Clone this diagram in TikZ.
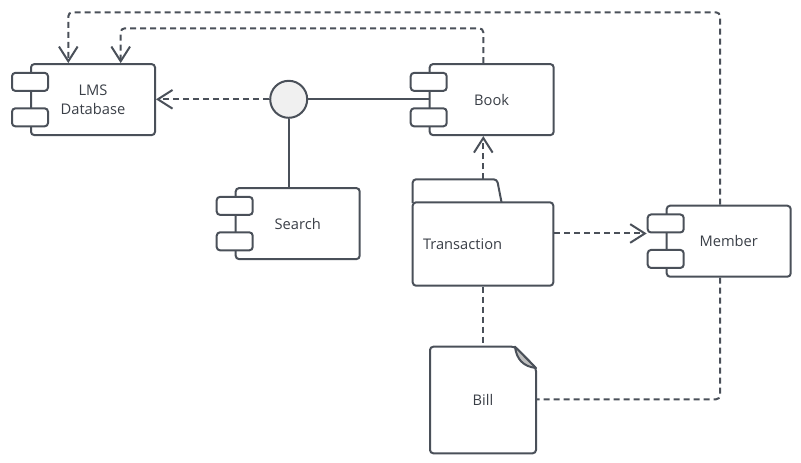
\documentclass[tikz,border=0pt]{standalone}
\usepackage{fontspec}
\setmainfont{Open Sans}
\usetikzlibrary{arrows.meta}
\definecolor{lc}{RGB}{74,80,89}
\definecolor{tc}{RGB}{58,63,71}
\definecolor{cf}{RGB}{240,240,240}
\definecolor{foldc}{RGB}{190,190,190}
\tikzset{
  every node/.style={font=\fontsize{11pt}{14pt}\selectfont, text=tc},
  outline/.style={draw=lc, line width=1.5pt},
  comp/.style={outline, rounded corners=2.5pt, fill=white, minimum width=93pt, minimum height=53.25pt, inner sep=0pt, align=center},
  comptab/.style={outline, rounded corners=2.5pt, fill=white, minimum width=27pt, minimum height=13.5pt, inner sep=0pt},
  dep/.style={draw=lc, line width=1.5pt, dash pattern=on 4.5pt off 3pt},
  solidline/.style={draw=lc, line width=1.5pt},
  barb/.style={-{Straight Barb[length=11pt, width=14pt]}},
}
\newcommand\umlcomp[4]{%
  \node[comp] (#1) at (#2,#3) {#4};
  \node[comptab] (#1t1) at ([yshift=13.3pt]#1.west) {};
  \node[comptab] (#1t2) at ([yshift=-13.3pt]#1.west) {};
}
\begin{document}
\begin{tikzpicture}[x=0.75pt, y=-0.75pt]
\useasboundingbox (0,0) rectangle (801,462);

% components
\umlcomp{lms}{93}{99.6}{LMS\\Database}
\umlcomp{book}{491.7}{99.6}{Book}
\umlcomp{search}{297.7}{223.6}{Search}
\umlcomp{member}{728.7}{241.2}{Member}

% interface
\node[outline, circle, fill=cf, minimum size=27.75pt, inner sep=0pt] (iface) at (288.7,99.3) {};

% Transaction package
\draw[outline, rounded corners=2.5pt, fill=white] (412.7,203) -- (412.7,179.3) -- (497,179.3) -- (501.7,203);
\node[outline, rounded corners=2.5pt, fill=white, minimum width=105.45pt, minimum height=62.55pt, inner xsep=7.7pt, text width=90pt, align=left] (trans) at (483,244) {Transaction};
\coordinate (transtop) at (483.3,179.3);

% Bill document
\node[minimum width=79.5pt, minimum height=80pt, inner sep=0pt] (bill) at (483,400) {Bill};
\draw[outline, rounded corners=2.5pt] (515,346.7) -- (536,368) -- (536,453.3) -- (430,453.3) -- (430,346.7) -- cycle;
\draw[outline, fill=foldc, line join=round] (515,346.7) .. controls (516.5,359) and (523,366.5) .. (536,368) -- cycle;

% connectors
\draw[dep, barb] (iface) -- (iface -| lms.east);
\draw[solidline] (iface) -- (iface -| book.west);
\draw[solidline] (iface) -- (iface |- search.north);
\draw[dep, barb] (transtop) -- (transtop |- book.south);
\draw[dep, barb] (membert1.south west -| trans.east) -- (membert1.south west);
\draw[dep] (trans.south) -- (bill.north);

\coordinate (tr) at (720,12.3);
\coordinate (tl) at (68.3,12.3);
\draw[dep, barb, rounded corners=3pt] (tr |- member.north) -- (tr) -- (tl) -- (tl |- lms.north);

\coordinate (br) at (483.3,28.3);
\coordinate (bl) at (120.7,28.3);
\draw[dep, barb, rounded corners=3pt] (br |- book.north) -- (br) -- (bl) -- (bl |- lms.north);

\coordinate (mb) at (720,399.3);
\draw[dep, rounded corners=3pt] (mb |- member.south) -- (mb) -- (mb -| bill.east);
\end{tikzpicture}
\end{document}
